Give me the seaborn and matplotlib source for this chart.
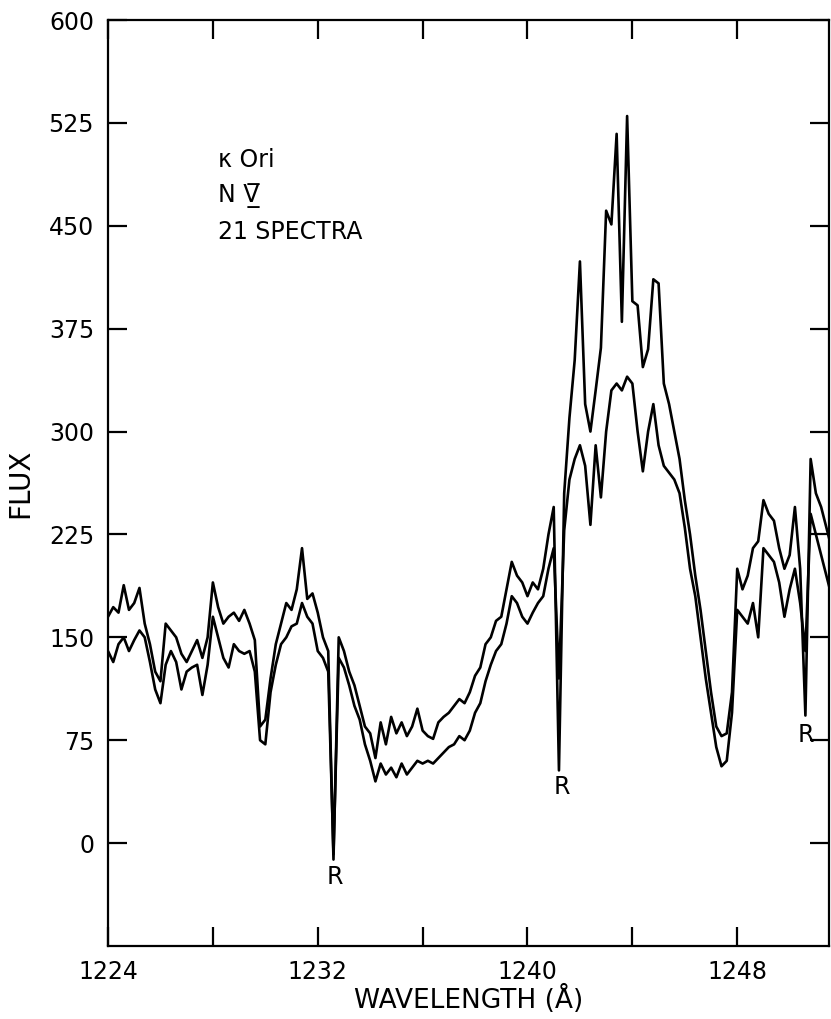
import numpy as np
import pandas as pd
import matplotlib
matplotlib.use("Agg")
import matplotlib.pyplot as plt
import seaborn as sns

# wavelength grid (Angstrom) at 0.2 A steps
wave = [
    1224.0, 1224.2, 1224.4, 1224.6, 1224.8,
    1225.0, 1225.2, 1225.4, 1225.6, 1225.8,
    1226.0, 1226.2, 1226.4, 1226.6, 1226.8,
    1227.0, 1227.2, 1227.4, 1227.6, 1227.8,
    1228.0, 1228.2, 1228.4, 1228.6, 1228.8,
    1229.0, 1229.2, 1229.4, 1229.6, 1229.8,
    1230.0, 1230.2, 1230.4, 1230.6, 1230.8,
    1231.0, 1231.2, 1231.4, 1231.6, 1231.8,
    1232.0, 1232.2, 1232.4, 1232.6, 1232.8,
    1233.0, 1233.2, 1233.4, 1233.6, 1233.8,
    1234.0, 1234.2, 1234.4, 1234.6, 1234.8,
    1235.0, 1235.2, 1235.4, 1235.6, 1235.8,
    1236.0, 1236.2, 1236.4, 1236.6, 1236.8,
    1237.0, 1237.2, 1237.4, 1237.6, 1237.8,
    1238.0, 1238.2, 1238.4, 1238.6, 1238.8,
    1239.0, 1239.2, 1239.4, 1239.6, 1239.8,
    1240.0, 1240.2, 1240.4, 1240.6, 1240.8,
    1241.0, 1241.2, 1241.4, 1241.6, 1241.8,
    1242.0, 1242.2, 1242.4, 1242.6, 1242.8,
    1243.0, 1243.2, 1243.4, 1243.6, 1243.8,
    1244.0, 1244.2, 1244.4, 1244.6, 1244.8,
    1245.0, 1245.2, 1245.4, 1245.6, 1245.8,
    1246.0, 1246.2, 1246.4, 1246.6, 1246.8,
    1247.0, 1247.2, 1247.4, 1247.6, 1247.8,
    1248.0, 1248.2, 1248.4, 1248.6, 1248.8,
    1249.0, 1249.2, 1249.4, 1249.6, 1249.8,
    1250.0, 1250.2, 1250.4, 1250.6, 1250.8,
    1251.0, 1251.2, 1251.4, 1251.6,
]

# upper trace
flux_a = [
    165, 172, 168, 188, 170,
    175, 186, 160, 145, 125,
    118, 160, 155, 150, 138,
    132, 140, 148, 135, 150,
    190, 172, 160, 165, 168,
    162, 170, 160, 148, 85,
    90, 120, 145, 160, 175,
    170, 185, 215, 178, 182,
    168, 150, 140, -12, 150,
    140, 125, 115, 100, 85,
    80, 62, 88, 72, 92,
    80, 88, 78, 85, 98,
    82, 78, 76, 88, 92,
    95, 100, 105, 102, 110,
    122, 128, 145, 150, 162,
    165, 185, 205, 195, 190,
    180, 190, 185, 200, 225,
    245, 53, 255, 310, 352,
    424, 320, 300, 330, 361,
    461, 451, 517, 380, 530,
    395, 392, 347, 360, 411,
    408, 335, 320, 300, 280,
    250, 225, 195, 170, 140,
    110, 85, 78, 80, 110,
    200, 185, 195, 215, 220,
    250, 240, 235, 215, 200,
    210, 245, 200, 93, 280,
    255, 245, 230, 215,
]

# lower trace
flux_b = [
    140, 132, 145, 150, 140,
    148, 155, 150, 132, 112,
    102, 130, 140, 132, 112,
    125, 128, 130, 108, 130,
    165, 150, 135, 128, 145,
    140, 138, 140, 125, 75,
    72, 110, 130, 145, 150,
    158, 160, 175, 165, 160,
    140, 135, 125, -8, 135,
    128, 115, 100, 90, 72,
    60, 45, 58, 50, 55,
    48, 58, 50, 55, 60,
    58, 60, 58, 62, 66,
    70, 72, 78, 75, 82,
    95, 102, 118, 130, 140,
    145, 160, 180, 175, 165,
    160, 168, 175, 180, 200,
    215, 120, 228, 265, 280,
    290, 275, 232, 290, 252,
    300, 330, 335, 330, 340,
    335, 300, 271, 300, 320,
    290, 275, 270, 265, 255,
    230, 200, 180, 150, 120,
    95, 70, 56, 60, 95,
    170, 165, 160, 175, 150,
    215, 210, 205, 190, 165,
    185, 200, 175, 140, 240,
    225, 210, 195, 180,
]

# reseau marks
r_wave = [1232.65, 1241.3, 1250.6]
r_flux = [-25, 41, 79]

assert len(wave) == len(flux_a) == len(flux_b)

df = pd.DataFrame({
    "wavelength": wave + wave,
    "flux": flux_a + flux_b,
    "trace": ["a"] * len(wave) + ["b"] * len(wave),
})

sns.set_style("ticks")
plt.rcParams['font.family'] = ['DejaVu Sans']
plt.rcParams['text.color'] = 'black'
plt.rcParams['axes.labelcolor'] = 'black'

fig = plt.figure(figsize=(8.31, 10.19), dpi=100)
ax = fig.add_axes([108 / 831, 73 / 1019, 721 / 831, 926 / 1019])

sns.lineplot(data=df, x="wavelength", y="flux", hue="trace",
             palette=["black", "black"], estimator=None, sort=False,
             legend=False, linewidth=1.9, ax=ax)

ax.set_xlim(1224, 1251.5)
ax.set_ylim(-75, 600)
ax.set_xticks([1224, 1232, 1240, 1248])
ax.set_xticks([1228, 1236, 1244], minor=True)
ax.set_yticks(range(0, 601, 75))
ax.tick_params(which='both', direction='in', length=14, width=1.6,
               top=True, right=True, labelsize=17, pad=10, colors='black')
for s in ax.spines.values():
    s.set_linewidth(1.6)
    s.set_color('black')

ax.set_xlabel("WAVELENGTH (Å)", fontsize=19, labelpad=1)
ax.set_ylabel("FLUX", fontsize=20, labelpad=10)

ax.text(0.153, 0.849, "κ Ori", transform=ax.transAxes, fontsize=17, va='center')
ax.text(0.153, 0.810, "N V\u0305\u0332", transform=ax.transAxes, fontsize=17, va='center')
ax.text(0.153, 0.771, "21 SPECTRA", transform=ax.transAxes, fontsize=17, va='center')

for xw, yf in zip(r_wave, r_flux):
    ax.text(xw, yf, "R", ha='center', va='center', fontsize=17)

fig.savefig("out.png", dpi=100)
